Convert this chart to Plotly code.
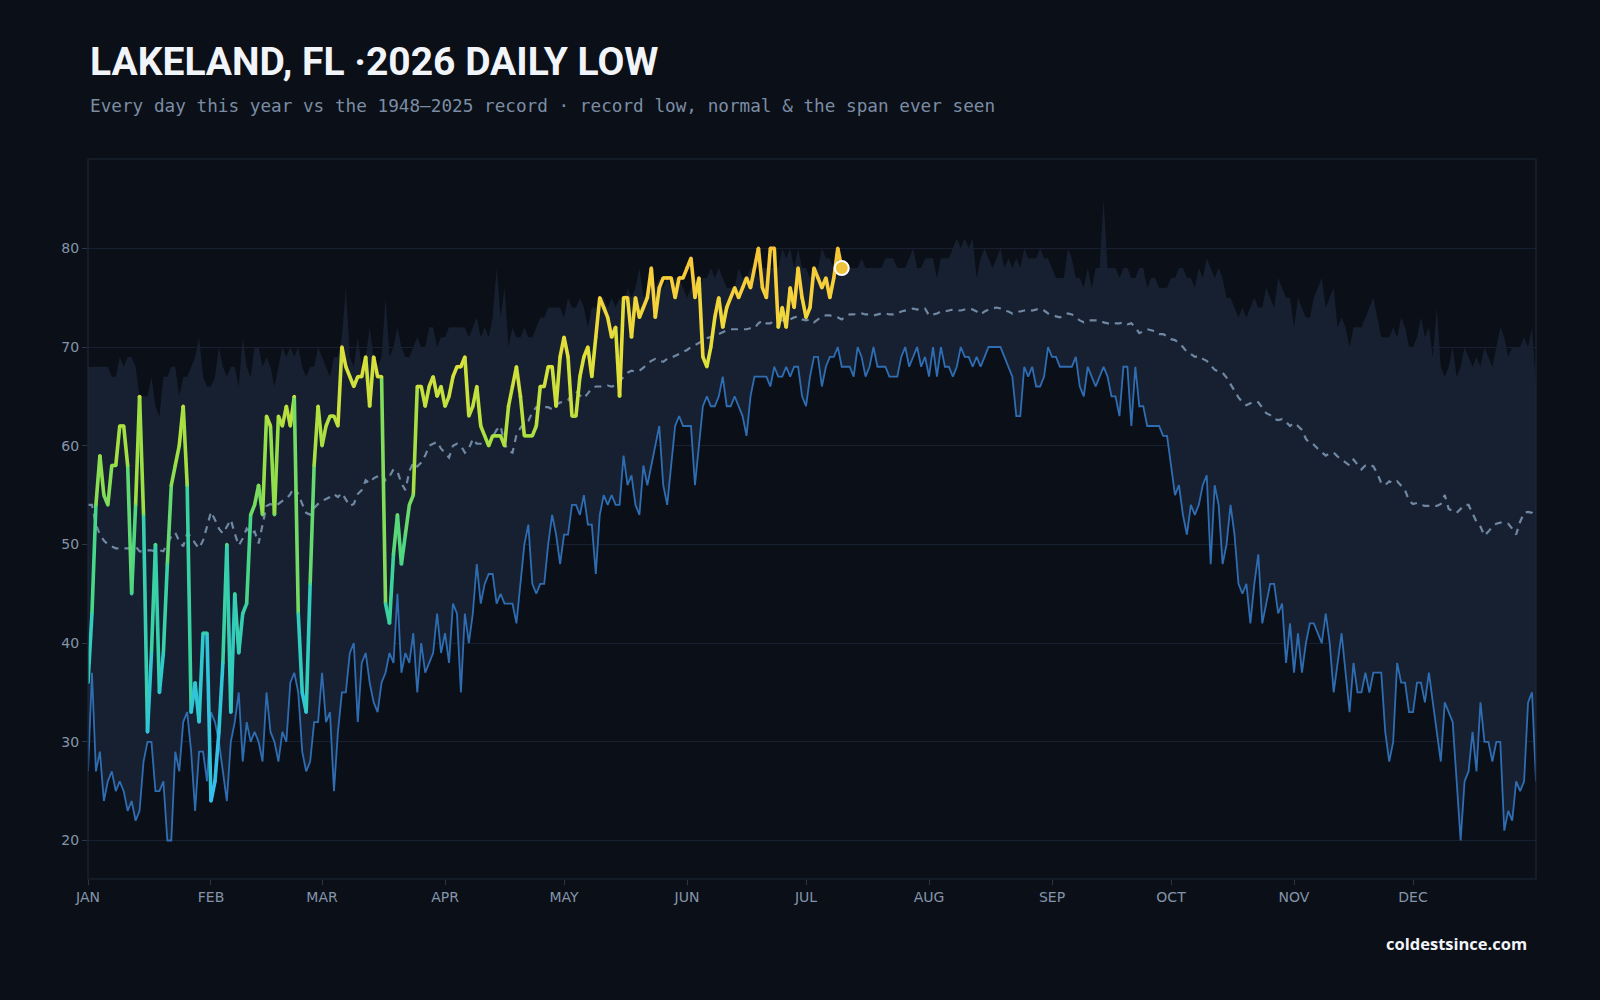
import plotly.graph_objects as go
from plotly.colors import sample_colorscale

# ---------------- data ----------------
MONTHS = ["JAN", "FEB", "MAR", "APR", "MAY", "JUN", "JUL", "AUG", "SEP", "OCT", "NOV", "DEC"]
MONTH_START = [0, 31, 59, 90, 120, 151, 181, 212, 243, 273, 304, 334]
Y_TICKS = [20, 30, 40, 50, 60, 70, 80]

THIS_YEAR = [
    36, 43, 54, 59, 55, 54, 58, 58, 62, 62,
    58, 45, 54, 65, 53, 31, 39, 50, 35, 39,
    48, 56, 58, 60, 64, 56, 33, 36, 32, 41,
    41, 24, 26, 31, 38, 50, 33, 45, 39, 43,
    44, 53, 54, 56, 53, 63, 62, 53, 63, 62,
    64, 62, 65, 43, 35, 33, 46, 58, 64, 60,
    62, 63, 63, 62, 70, 68, 67, 66, 67, 67,
    69, 64, 69, 67, 67, 44, 42, 49, 53, 48,
    51, 54, 55, 66, 66, 64, 66, 67, 65, 66,
    64, 65, 67, 68, 68, 69, 63, 64, 66, 62,
    61, 60, 61, 61, 61, 60, 64, 66, 68, 65,
    61, 61, 61, 62, 66, 66, 68, 68, 64, 69,
    71, 69, 63, 63, 67, 69, 70, 67, 71, 75,
    74, 73, 71, 72, 65, 75, 75, 71, 75, 73,
    74, 75, 78, 73, 76, 77, 77, 77, 75, 77,
    77, 78, 79, 75, 77, 69, 68, 70, 73, 75,
    72, 74, 75, 76, 75, 76, 77, 76, 78, 80,
    76, 75, 80, 80, 72, 74, 72, 76, 74, 78,
    75, 73, 74, 78, 77, 76, 77, 75, 77, 80,
    78,
]

RECORD_LOW = [
    27, 37, 27, 29, 24, 26, 27, 25, 26, 25,
    23, 24, 22, 23, 28, 30, 30, 25, 25, 26,
    20, 20, 29, 27, 32, 33, 29, 23, 29, 29,
    26, 33, 32, 30, 27, 24, 30, 32, 35, 28,
    32, 30, 31, 30, 28, 35, 31, 30, 28, 31,
    30, 36, 37, 35, 29, 27, 28, 32, 32, 37,
    32, 33, 25, 31, 35, 35, 39, 40, 32, 38,
    39, 36, 34, 33, 36, 37, 39, 38, 45, 37,
    39, 38, 41, 35, 40, 37, 38, 39, 43, 39,
    41, 38, 44, 43, 35, 43, 40, 43, 48, 44,
    46, 47, 47, 44, 45, 44, 44, 44, 42, 46,
    50, 52, 46, 45, 46, 46, 50, 53, 51, 48,
    51, 51, 54, 54, 53, 55, 52, 52, 47, 53,
    55, 54, 55, 54, 54, 59, 56, 57, 54, 53,
    58, 56, 58, 60, 62, 56, 54, 58, 62, 63,
    62, 62, 62, 56, 60, 64, 65, 64, 64, 65,
    67, 64, 64, 65, 64, 63, 61, 65, 67, 67,
    67, 67, 66, 68, 67, 67, 68, 67, 68, 68,
    65, 64, 67, 69, 69, 66, 68, 69, 69, 70,
    68, 68, 68, 67, 70, 69, 67, 68, 70, 68,
    68, 68, 67, 67, 67, 69, 70, 68, 69, 70,
    68, 69, 67, 70, 67, 70, 68, 68, 67, 68,
    70, 69, 69, 68, 69, 68, 69, 70, 70, 70,
    70, 69, 68, 67, 63, 63, 68, 67, 68, 66,
    66, 67, 70, 69, 69, 68, 68, 68, 68, 69,
    66, 65, 68, 67, 66, 67, 68, 67, 65, 65,
    63, 68, 68, 62, 68, 64, 64, 62, 62, 62,
    62, 61, 61, 58, 55, 56, 53, 51, 54, 53,
    54, 56, 57, 48, 56, 54, 48, 50, 54, 51,
    46, 45, 46, 42, 46, 49, 42, 44, 46, 46,
    43, 44, 38, 42, 37, 41, 37, 40, 42, 42,
    41, 40, 43, 40, 35, 38, 41, 37, 33, 38,
    35, 35, 37, 35, 37, 37, 37, 31, 28, 30,
    38, 36, 36, 33, 33, 36, 36, 34, 37, 34,
    31, 28, 34, 33, 32, 26, 20, 26, 27, 31,
    27, 34, 30, 30, 28, 30, 30, 21, 23, 22,
    26, 25, 26, 34, 35, 26,
]

RECORD_HIGH = [
    68, 68, 68, 68, 68, 68, 67, 67, 69, 68,
    69, 69, 68, 65, 65, 65, 67, 64, 63, 67,
    67, 68, 68, 65, 67, 67, 68, 69, 71, 67,
    66, 66, 67, 70, 68, 67, 68, 68, 66, 71,
    68, 67, 70, 70, 68, 69, 68, 66, 68, 70,
    69, 70, 69, 70, 68, 67, 68, 68, 70, 69,
    68, 67, 69, 69, 71, 76, 69, 68, 71, 68,
    69, 72, 69, 68, 69, 75, 69, 70, 72, 70,
    69, 69, 70, 71, 70, 70, 72, 72, 70, 71,
    71, 72, 72, 72, 72, 72, 71, 72, 73, 71,
    72, 71, 73, 78, 73, 76, 70, 72, 71, 71,
    72, 71, 71, 72, 73, 73, 74, 74, 74, 74,
    73, 75, 74, 74, 75, 74, 72, 74, 74, 75,
    75, 74, 75, 74, 75, 74, 76, 75, 76, 78,
    75, 76, 78, 76, 77, 76, 77, 76, 77, 77,
    76, 75, 76, 77, 76, 77, 77, 78, 77, 78,
    77, 76, 76, 76, 78, 77, 77, 78, 78, 77,
    78, 78, 78, 78, 78, 80, 79, 80, 78, 80,
    78, 78, 77, 78, 78, 80, 79, 79, 78, 78,
    78, 78, 78, 78, 78, 79, 78, 78, 78, 78,
    78, 79, 79, 79, 78, 78, 78, 79, 80, 78,
    78, 79, 79, 79, 77, 79, 79, 79, 80, 81,
    80, 81, 80, 81, 77, 79, 80, 79, 78, 79,
    80, 78, 79, 78, 79, 78, 80, 79, 79, 79,
    80, 79, 79, 78, 77, 77, 77, 80, 79, 77,
    77, 76, 78, 76, 78, 78, 85, 78, 78, 78,
    77, 78, 78, 77, 77, 78, 78, 76, 77, 77,
    76, 76, 76, 77, 77, 78, 78, 77, 77, 76,
    78, 77, 79, 78, 77, 78, 77, 75, 75, 74,
    73, 74, 73, 74, 75, 74, 74, 76, 75, 74,
    77, 76, 75, 75, 72, 75, 74, 73, 73, 75,
    76, 77, 74, 75, 76, 72, 73, 72, 70, 72,
    72, 72, 73, 74, 75, 73, 71, 71, 71, 72,
    71, 73, 72, 70, 70, 71, 73, 71, 72, 69,
    74, 68, 67, 68, 70, 67, 68, 70, 69, 68,
    69, 68, 70, 69, 68, 70, 72, 71, 69, 70,
    70, 70, 71, 70, 72, 66,
]

NORMAL = [
    54, 54, 52, 51, 50.4, 50, 49.8, 49.6, 49.6, 49.6,
    49.6, 49.6, 49.8, 49.3, 49.3, 49.4, 49.4, 49.3, 49.4, 49.3,
    50.1, 50.8, 51.2, 50.3, 49.8, 51.1, 50.8, 50.1, 49.6, 50.4,
    51.8, 53.3, 52.5, 51.6, 51.1, 51.8, 52.5, 51.1, 49.9, 50.6,
    51.6, 51.1, 51.3, 50.1, 52, 53.9, 54.1, 53.9, 54.1, 54.4,
    54.6, 55.1, 55.8, 55.1, 54.1, 53.2, 53, 53.7, 54.1, 54.4,
    54.6, 54.8, 55.1, 54.8, 55.2, 54.6, 53.9, 54.1, 55.1, 55.5,
    56.5, 56.2, 56.7, 56.9, 57.2, 56.5, 56.9, 57.6, 57.4, 56.2,
    55.5, 57.4, 58.3, 57.9, 58.3, 59, 60, 60.2, 60.4, 59.7,
    59.3, 58.8, 60, 60.2, 60, 59.3, 59.7, 60.7, 60.2, 60.2,
    60, 60.2, 60.9, 61.6, 62, 60.2, 59.5, 59.3, 61.1, 61.8,
    62.3, 62.5, 63.4, 63.9, 63.7, 63.9, 63.9, 63.7, 64.1, 64.4,
    64.4, 64.6, 65.3, 65.5, 65.1, 64.8, 65.3, 65.8, 66, 66,
    66, 66.1, 66, 66.1, 66.5, 66.9, 67.4, 67.6, 67.5, 67.6,
    67.9, 68.3, 68.6, 68.8, 68.6, 68.5, 68.8, 68.9, 69.1, 69.3,
    69.5, 69.7, 70, 70.2, 70.4, 70.7, 70.9, 71, 71.2, 71.3,
    71.5, 71.7, 71.8, 71.8, 71.8, 71.8, 71.8, 71.9, 71.9, 72.4,
    72.7, 72.4, 72.4, 72.7, 72.7, 72.7, 72.7, 72.8, 73, 73.1,
    72.8, 72.7, 72.8, 72.5, 72.8, 73.1, 73.2, 73.2, 73.1, 73,
    72.8, 73.1, 73.3, 73.3, 73.4, 73.4, 73.3, 73.3, 73.2, 73.3,
    73.4, 73.4, 73.3, 73.3, 73.4, 73.6, 73.7, 73.8, 73.9, 73.8,
    73.9, 73.9, 73.2, 73.3, 73.4, 73.6, 73.6, 73.7, 73.8, 73.7,
    73.7, 73.8, 73.9, 73.8, 73.6, 73.3, 73.6, 73.8, 73.9, 74,
    73.9, 73.7, 73.6, 73.4, 73.6, 73.6, 73.7, 73.8, 73.7, 73.8,
    73.9, 73.7, 73.4, 73.3, 73.1, 73, 73.2, 73.4, 73.3, 73,
    72.7, 72.5, 72.7, 72.7, 72.7, 72.7, 72.5, 72.4, 72.3, 72.4,
    72.4, 72.5, 72.3, 72.4, 72, 71.4, 71.6, 71.8, 71.7, 71.6,
    71.3, 71.3, 71.1, 70.8, 70.7, 70.4, 70, 69.5, 69.3, 69,
    69.1, 68.8, 68.6, 68.1, 67.7, 67.5, 67.4, 66.9, 66.2, 65.5,
    64.9, 64.4, 64.1, 64.3, 64.5, 64.4, 63.8, 63.3, 63.1, 62.7,
    62.6, 62.7, 62.4, 62, 62.3, 62, 61.6, 60.7, 60.2, 60.1,
    59.7, 59.3, 59, 59.2, 59.3, 58.9, 58.6, 58.3, 58, 58.6,
    58.1, 57.6, 58, 58.1, 57.9, 57.2, 56.2, 56, 56.4, 56.2,
    56.4, 56, 55.5, 54.4, 54.1, 54.2, 54, 53.9, 53.9, 53.9,
    53.9, 54.1, 55, 53.6, 53.4, 53.2, 53.6, 54, 54, 53.2,
    52.3, 51.8, 50.9, 51.3, 51.8, 52.1, 52.2, 52.2, 52.1, 51.6,
    51, 52.3, 53.2, 53.3, 53.2, 52.7,
]

DAYS = list(range(len(RECORD_LOW)))
YEAR_DAYS = list(range(len(THIS_YEAR)))

# ---------------- style ----------------
BG = "#0b0f17"
BAND = "#172030"
GRID = "#172131"
BORDER = "#1c2838"
LOW_BLUE = "#2f6db3"
NORMAL_C = "#7088a3"
TICK_C = "#8495ab"

TEMP_SCALE = [
    [0.0, "#38bdf8"],
    [0.22, "#2ec8d0"],
    [0.42, "#3fd68e"],
    [0.62, "#9be045"],
    [0.80, "#dfe13a"],
    [0.92, "#f7d23c"],
    [1.0, "#f5c037"],
]
T_MIN, T_MAX = 24, 80


def temp_color(v):
    t = (v - T_MIN) / (T_MAX - T_MIN)
    t = min(max(t, 0.0), 1.0)
    return sample_colorscale(TEMP_SCALE, [t])[0]


fig = go.Figure()

# span ever seen: band between record low and highest low
fig.add_trace(go.Scatter(
    x=DAYS, y=RECORD_HIGH, mode="lines", line=dict(width=0, color=BAND),
    hoverinfo="skip", showlegend=False,
))
fig.add_trace(go.Scatter(
    x=DAYS, y=RECORD_LOW, mode="lines", fill="tonexty", fillcolor=BAND,
    line=dict(color=LOW_BLUE, width=1.8), hoverinfo="skip", showlegend=False,
))

# normal
fig.add_trace(go.Scatter(
    x=DAYS, y=NORMAL, mode="lines",
    line=dict(color=NORMAL_C, width=2.2, dash="7px,6px"),
    hoverinfo="skip", showlegend=False,
))

# this year: segment-by-segment colour
for i in range(len(THIS_YEAR) - 1):
    a, b = THIS_YEAR[i], THIS_YEAR[i + 1]
    fig.add_trace(go.Scatter(
        x=[YEAR_DAYS[i], YEAR_DAYS[i + 1]], y=[a, b], mode="lines",
        line=dict(color=temp_color((a + b) / 2), width=3.6),
        hoverinfo="skip", showlegend=False,
    ))
fig.add_trace(go.Scatter(
    x=YEAR_DAYS, y=THIS_YEAR, mode="markers",
    marker=dict(size=3.4, color=[temp_color(v) for v in THIS_YEAR], line=dict(width=0)),
    hoverinfo="skip", showlegend=False,
))

# latest day marker
fig.add_trace(go.Scatter(
    x=[YEAR_DAYS[-1]], y=[THIS_YEAR[-1]], mode="markers",
    marker=dict(size=14, color="#f0c23a", line=dict(color="#ffffff", width=2)),
    hoverinfo="skip", showlegend=False,
))

fig.update_layout(
    width=1600, height=1000,
    paper_bgcolor=BG, plot_bgcolor=BG,
    margin=dict(l=88, r=64, t=159, b=121),
    showlegend=False,
    xaxis=dict(
        range=[0, 365], tickmode="array", tickvals=MONTH_START, ticktext=MONTHS,
        showgrid=False, zeroline=False, ticks="outside", ticklen=5, tickcolor="#2a3747",
        tickfont=dict(family="DejaVu Sans", size=14, color=TICK_C),
        showline=False,
    ),
    yaxis=dict(
        range=[16.1, 89.05], tickmode="array", tickvals=Y_TICKS,
        showgrid=True, gridcolor=GRID, gridwidth=1, zeroline=False,
        ticks="outside", ticklen=5, tickcolor="#2a3747",
        tickfont=dict(family="DejaVu Sans", size=14, color=TICK_C),
        showline=False,
    ),
    shapes=[dict(
        type="rect", xref="paper", yref="paper", x0=0, x1=1, y0=0, y1=1,
        line=dict(color=BORDER, width=1.2), fillcolor="rgba(0,0,0,0)", layer="above",
    )],
    annotations=[
        dict(
            text="<b>LAKELAND, FL ·2026 DAILY LOW</b>", xref="paper", yref="paper",
            x=0, y=(879 - 62) / 720, xanchor="left", yanchor="middle", showarrow=False,
            font=dict(family="Roboto", size=39, color="#f1f4f8"),
        ),
        dict(
            text="Every day this year vs the 1948–2025 record · record low, normal &amp; the span ever seen",
            xref="paper", yref="paper",
            x=0, y=(879 - 106) / 720, xanchor="left", yanchor="middle", showarrow=False,
            font=dict(family="DejaVu Sans Mono", size=17.7, color="#7b8da4"),
        ),
        dict(
            text="<b>coldestsince.com</b>", xref="paper", yref="paper",
            x=(1529 - 88) / 1448, y=(879 - 944) / 720, xanchor="right", yanchor="middle",
            showarrow=False, font=dict(family="Open Sans", size=16.5, color="#f1f4f8"),
        ),
    ],
)

fig.write_html("out.html")
